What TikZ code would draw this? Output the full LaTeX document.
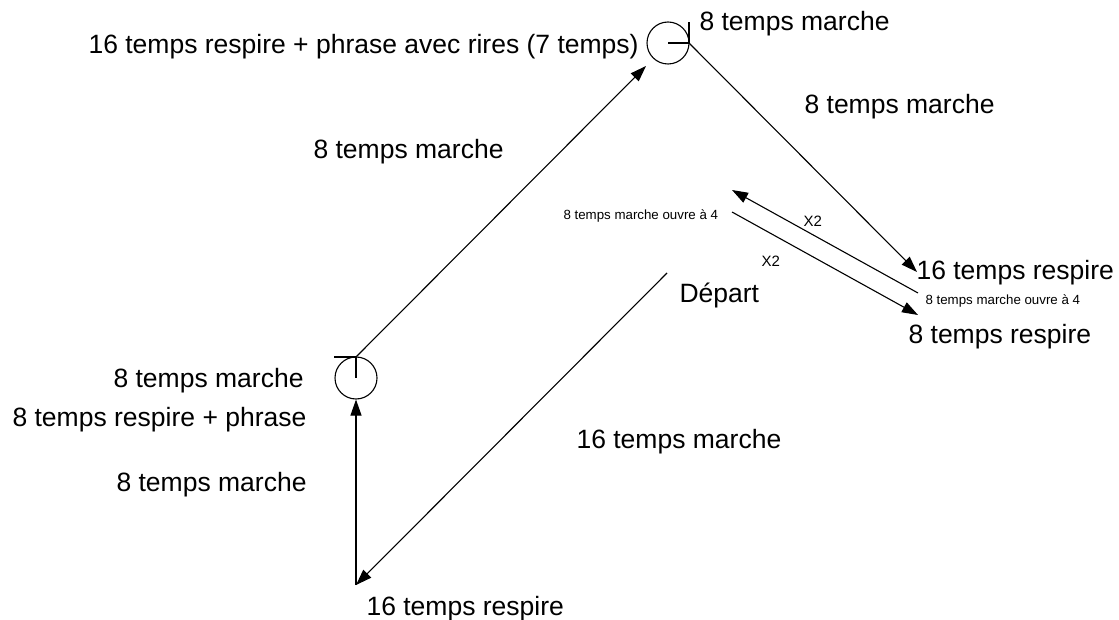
\documentclass[tikz,border=0pt]{standalone}
\usepackage{fontspec}
\setmainfont{Liberation Sans}
\usetikzlibrary{arrows.meta}
\begin{document}
\begin{tikzpicture}[x=1pt,y=-1pt,
  line width=1.1pt,
  big/.style={font=\fontsize{26.5}{30}\selectfont, inner sep=0pt, anchor=base west},
  small/.style={font=\fontsize{13.3}{15}\selectfont, inner sep=0pt, anchor=base west},
  xtwo/.style={font=\fontsize{15}{17}\selectfont, inner sep=0pt, anchor=base west},
  ring/.style={circle, draw, minimum size=42pt, inner sep=0pt},
  arr/.style={-{Triangle[length=16pt,width=11pt]}}]
\useasboundingbox (0,0) rectangle (1119,620);
% circles
\node[ring] (ct) at (668,43) {};
\node[ring] (cb) at (356,378) {};
% tick marks
\coordinate (tj) at (689,43);
\coordinate (tv) at (689,22);
\draw (ct.center) -- (tj) -- (tv);
\coordinate (bj) at (356,357);
\coordinate (bh) at (334,357);
\draw (bh) -- (bj) -- (cb.center);
% free ends
\coordinate (dep) at (667,273);
\coordinate (bot) at (356,585);
\coordinate (ttip) at (646,66);
\coordinate (r1) at (917,272);
\coordinate (a1s) at (918,293);
\coordinate (a1e) at (732,190);
\coordinate (a2s) at (732,212);
\coordinate (a2e) at (918,315);
% connectors
\draw[arr] (dep) -- (bot);
\draw[arr] (bot) -- (cb.south);
\draw[arr] (bj) -- (ttip);
\draw[arr] (tj) -- (r1);
\draw[arr] (a1s) -- (a1e);
\draw[arr] (a2s) -- (a2e);
% labels
\node[big] (l1) at (88,54) {16 temps respire + phrase avec rires (7 temps)};
\node[big] (l2) at (699,31) {8 temps marche};
\node[big] (l3) at (804,114) {8 temps marche};
\node[big] (l4) at (313,159) {8 temps marche};
\node[small] (l5) at (563,220) {8 temps marche ouvre à 4};
\node[xtwo] (l6) at (803,227) {X2};
\node[xtwo] (l7) at (761,267) {X2};
\node[big] (l8) at (679,303) {Départ};
\node[big] (l9) at (916,280) {16 temps respire};
\node[small] (l10) at (925,305) {8 temps marche ouvre à 4};
\node[big] (l11) at (908,343) {8 temps respire};
\node[big] (l12) at (113,387) {8 temps marche};
\node[big] (l13) at (12,426) {8 temps respire + phrase};
\node[big] (l14) at (576,448) {16 temps marche};
\node[big] (l15) at (116,491) {8 temps marche};
\node[big] (l16) at (366,615) {16 temps respire};
\end{tikzpicture}
\end{document}
